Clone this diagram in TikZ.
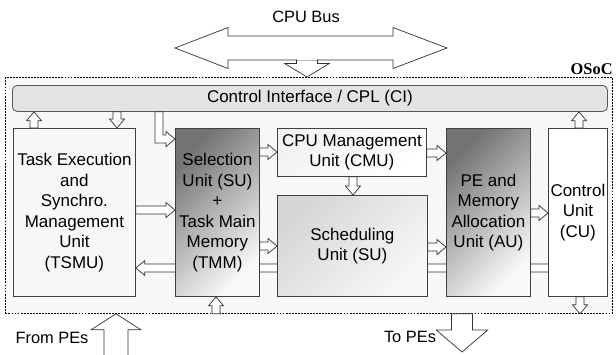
\documentclass[tikz,border=0pt]{standalone}
\usepackage{fontspec}
\setmainfont{Liberation Sans}
\newfontfamily\osocfont{Liberation Serif}
\usetikzlibrary{calc}

\pgfdeclarelayer{frame}
\pgfdeclarelayer{back}
\pgfsetlayers{frame,back,main}

\tikzset{
  unit/.style={draw=black!75, line width=0.7pt, anchor=north west, align=center,
    inner sep=1pt, font=\fontsize{14.5}{17.5}\selectfont},
  boxsize/.style 2 args={minimum width=#1*0.03cm, minimum height=#2*0.03cm},
  darkshade/.style={top color=black!55, bottom color=black!2, shading angle=45},
  lightshade/.style={top color=black!16, bottom color=black!3, shading angle=45},
  arrowbody/.style={draw=black!80, fill=white, line width=0.6pt, line join=miter},
  ciface/.style={unit, rounded corners=4pt, fill=black!11, draw=black!65},
  osocframe/.style={draw=black, fill=black!3, line width=0.7pt,
    dash pattern=on 1.6pt off 1pt, anchor=north west, inner sep=0pt},
  portlabel/.style={font=\fontsize{14}{17}\selectfont, inner sep=1pt}
}

% hollow block arrow: from, to, shaft half width, head half width, head length
\newcommand{\blockarrow}[5]{%
  \coordinate (ba-s) at #1;
  \coordinate (ba-e) at #2;
  \coordinate (ba-b) at ($(ba-e)!#5!(ba-s)$);
  \filldraw[arrowbody] ($(ba-s)!#3!90:(ba-e)$) -- ($(ba-b)!#3!90:(ba-e)$)
    -- ($(ba-b)!#4!90:(ba-e)$) -- (ba-e) -- ($(ba-b)!#4!-90:(ba-e)$)
    -- ($(ba-b)!#3!-90:(ba-e)$) -- ($(ba-s)!#3!-90:(ba-e)$) -- cycle;
}
\newcommand{\unitarrow}[2]{\blockarrow{#1}{#2}{3.4pt}{6.4pt}{7.7pt}}

\begin{document}
\begin{tikzpicture}[x=0.03cm, y=-0.03cm]
  \useasboundingbox (0,0) rectangle (616,354);
  % OSoC frame
  \begin{pgfonlayer}{frame}
    \node[osocframe, boxsize={607}{236}] (osoc) at (5,77) {};
  \end{pgfonlayer}
  \node[anchor=south east, inner sep=1pt, font=\osocfont\bfseries\fontsize{14}{16}\selectfont]
    (osocl) at (614,76) {OSoC};
  % Control interface
  \node[ciface, boxsize={595}{26}] (ci) at (12,85) {Control Interface / CPL (CI)};
  % Units
  \node[unit, boxsize={122}{168}] (tsmu) at (13,128)
    {Task Execution\\and\\Synchro.\\Management\\Unit\\(TSMU)};
  \node[unit, darkshade, boxsize={84}{168}] (su) at (175,128)
    {Selection\\Unit (SU)\\+\\Task Main\\Memory\\(TMM)};
  \node[unit, top color=black!5, bottom color=white, shading angle=45,
    boxsize={149}{48}] (cmu) at (277,128) {CPU Management\\Unit (CMU)};
  \node[unit, lightshade, boxsize={150}{101}] (sch) at (277,195)
    {Scheduling\\Unit (SU)};
  \node[unit, darkshade, boxsize={84}{168}] (au) at (446,128)
    {PE and\\Memory\\Allocation\\Unit (AU)};
  \node[unit, fill=white, boxsize={59}{168}] (cu) at (548,128)
    {Control\\Unit\\(CU)};

  % Return band behind the units
  \begin{pgfonlayer}{back}
    \unitarrow{(cu.center |- 0,268)}{(tsmu.east |- 0,268)}
  \end{pgfonlayer}

  % Links with the control interface
  \unitarrow{(tsmu.north -| 34,0)}{(ci.south -| 34,0)}
  \unitarrow{(ci.south -| 117,0)}{(tsmu.north -| 117,0)}
  \unitarrow{(cu.north -| 579,0)}{(ci.south -| 579,0)}
  \coordinate (el-top) at (ci.south -| 159,0);
  \coordinate (el-end) at (su.west |- 0,139);
  \filldraw[arrowbody] ($(el-top)+(-4,0)$) |- ($(el-end)+(-9,4)$) -- ++(0,3.5)
    -- (el-end) -- ++(-9,-7.5) -- ++(0,3.5) -| ($(el-top)+(4,0)$) -- cycle;

  % Links between the units
  \foreach \a/\b/\y in {tsmu/su/210, su/cmu/152, su/sch/246, cmu/au/153,
                        sch/au/247, au/cu/213}{
    \unitarrow{(\a.east |- 0,\y)}{(\b.west |- 0,\y)}
  }
  \unitarrow{(cmu.south -| 353,0)}{(sch.north -| 353,0)}
  \unitarrow{(osoc.south -| 216,0)}{(su.south -| 216,0)}
  \unitarrow{(cu.south -| 580,0)}{(osoc.south -| 580,0)}

  % CPU bus
  \node[portlabel] (buslabel) at (306,17) {CPU Bus};
  \filldraw[arrowbody] (175,48) -- (228,27.5) -- (228,36) -- (393,36) -- (393,27.5)
    -- (447,48) -- (393,68.5) -- (393,60) -- (228,60) -- (228,68.5) -- cycle;
  \coordinate (bus-drop) at (307,60);
  \coordinate (bus-in) at (osoc.north -| bus-drop);
  \blockarrow{(bus-drop)}{(bus-in)}{9pt}{19pt}{11.5pt}
  \fill[white] (297,51) rectangle (317,60.4);

  % Processing elements
  \node[portlabel] (fromlabel) at (52,338) {From PEs};
  \node[portlabel] (tolabel) at (410,337) {To PEs};
  \coordinate (pe-in) at (osoc.south -| 116,0);
  \coordinate (pe-out) at (osoc.south -| 462,0);
  \filldraw[arrowbody] (pe-in) -- ++(25,16) -- ++(-13,0) -- ++(0,30) -- ++(-24,0)
    -- ++(0,-30) -- ++(-13,0) -- cycle;
  \blockarrow{(pe-out)}{(462,352)}{9pt}{22pt}{18.8pt}
\end{tikzpicture}
\end{document}
